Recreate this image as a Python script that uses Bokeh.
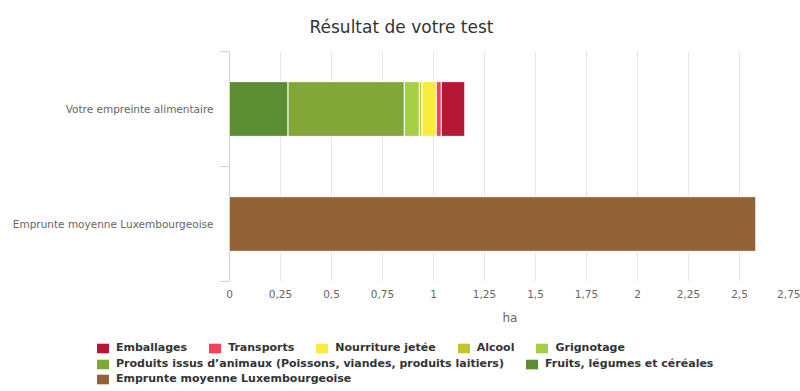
from bokeh.plotting import figure
from bokeh.models import (ColumnDataSource, FixedTicker, Range1d, Legend,
                          LegendItem)
from bokeh.embed import file_html
from bokeh.resources import INLINE

# ---------------- data ----------------
title_text = "Résultat de votre test"
categories = ["Votre empreinte alimentaire", "Emprunte moyenne Luxembourgeoise"]
category_pos = [1.5, 0.5]

series_names = ["Emballages", "Transports", "Nourriture jetée", "Alcool",
                "Grignotage",
                "Produits issus d’animaux (Poissons, viandes, produits laitiers)",
                "Fruits, légumes et céréales"]
series_values = [0.115, 0.025, 0.070, 0.013, 0.0735, 0.570, 0.287]
series_colors = ["#b41834", "#f73e5a", "#f9eb3f", "#c1c42e", "#a5d046",
                 "#83a638", "#5b8d33"]

average_name = "Emprunte moyenne Luxembourgeoise"
average_value = 2.58
average_color = "#936338"

x_ticks = [0, 0.25, 0.5, 0.75, 1, 1.25, 1.5, 1.75, 2, 2.25, 2.5, 2.75]
x_tick_labels = ["0", "0,25", "0,5", "0,75", "1", "1,25", "1,5", "1,75",
                 "2", "2,25", "2,5", "2,75"]
x_axis_title = "ha"

FONT = "DejaVu Sans"

# ---------------- main figure ----------------
p = figure(width=800, height=331, output_backend="svg", toolbar_location=None,
           x_range=Range1d(0, 2.75), y_range=Range1d(0, 2),
           min_border_left=229, min_border_right=10, min_border_top=50,
           min_border_bottom=50, outline_line_color=None)

p.title.text = title_text
p.title.align = "left"
p.title.offset = 80
p.title.text_font = FONT
p.title.text_font_size = "17px"
p.title.text_font_style = "normal"
p.title.text_color = "#333333"
p.title.standoff = 29

stack_src = ColumnDataSource(dict(y=[category_pos[0]],
                                  **{n: [v] for n, v in zip(series_names, series_values)}))
p.hbar_stack(list(reversed(series_names)), y="y", height=0.476,
             color=list(reversed(series_colors)), line_color="white",
             line_width=1, source=stack_src)

avg_src = ColumnDataSource(dict(y=[category_pos[1]], right=[average_value]))
p.hbar(y="y", left=0, right="right", height=0.476, source=avg_src,
       color=average_color, line_color="white", line_width=1)

xa = p.xaxis[0]
xa.ticker = FixedTicker(ticks=x_ticks)
xa.major_label_overrides = {t: l for t, l in zip(x_ticks, x_tick_labels)}
xa.axis_line_color = None
xa.major_tick_line_color = None
xa.major_tick_out = 0
xa.major_tick_in = 0
xa.minor_tick_line_color = None
xa.minor_tick_out = 0
xa.major_label_text_font = FONT
xa.major_label_text_font_size = "10.5px"
xa.major_label_text_color = "#666666"
xa.major_label_standoff = 8
xa.axis_label = x_axis_title
xa.axis_label_text_font = FONT
xa.axis_label_text_font_size = "12px"
xa.axis_label_text_font_style = "normal"
xa.axis_label_text_color = "#666666"
xa.axis_label_standoff = 10

ya = p.yaxis[0]
ya.ticker = FixedTicker(ticks=category_pos, minor_ticks=[0, 1, 2])
ya.major_label_overrides = {t: l for t, l in zip(category_pos, categories)}
ya.axis_line_color = "#ccd6eb"
ya.major_tick_line_color = None
ya.major_tick_out = 0
ya.major_tick_in = 0
ya.minor_tick_line_color = "#ccd6eb"
ya.minor_tick_out = 10
ya.minor_tick_in = 0
ya.major_label_text_font = FONT
ya.major_label_text_font_size = "10.5px"
ya.major_label_text_color = "#666666"
ya.major_label_standoff = 6

p.xgrid.grid_line_color = "#e6e6e6"
p.xgrid.ticker = FixedTicker(ticks=x_ticks)
p.ygrid.grid_line_color = None

# ---------------- legend figure ----------------
q = figure(width=800, height=60, output_backend="svg", toolbar_location=None,
           x_axis_type=None, y_axis_type=None, x_range=Range1d(0, 1),
           y_range=Range1d(0, 1), min_border=0, outline_line_color=None)
q.grid.grid_line_color = None

legend_names = series_names + [average_name]
legend_colors = series_colors + [average_color]
legend_values = series_values + [average_value]
proxy = {}
for n, c, v in zip(legend_names, legend_colors, legend_values):
    r = q.hbar(y=[0.5], left=[0], right=[v], height=0.5, color=c, line_color=None)
    r.visible = False
    proxy[n] = r

rows = [legend_names[:5], legend_names[5:7], legend_names[7:]]
row_y = [37, 21, 6]
for names, yy in zip(rows, row_y):
    leg = Legend(items=[LegendItem(label=n, renderers=[proxy[n]]) for n in names],
                 orientation="horizontal", location=(95, yy),
                 padding=0, margin=0, spacing=20, label_standoff=6,
                 glyph_width=15, glyph_height=12, label_height=12,
                 label_text_font=FONT, label_text_font_size="11px",
                 label_text_font_style="bold", label_text_color="#333333",
                 border_line_color=None, background_fill_alpha=0,
                 inactive_fill_alpha=0)
    q.add_layout(leg, "center")

open("out.html", "w").write(file_html([p, q], INLINE))
